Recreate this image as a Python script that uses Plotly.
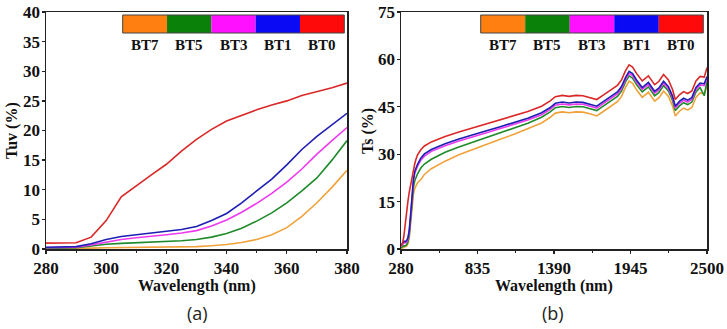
import plotly.graph_objects as go

W, H = 727, 329

# ---------------- data ----------------
series_names = ["BT0", "BT1", "BT3", "BT5", "BT7"]
legend_order = ["BT7", "BT5", "BT3", "BT1", "BT0"]
line_colors = {"BT0": "#DA2828", "BT1": "#1E1EB4", "BT3": "#EE3AEE", "BT5": "#1F8A2A", "BT7": "#F0A23A"}
swatch_colors = {"BT0": "#FF0A0A", "BT1": "#0A0AF5", "BT3": "#FF10FF", "BT5": "#0A820A", "BT7": "#FF8010"}

# Panel (a): UV transmittance
wl_uv = [280, 285, 290, 295, 300, 305, 310, 315, 320, 325, 330, 335, 340, 345, 350, 355, 360, 365, 370, 375, 380]
tuv_bt0 = [1.0, 1.0, 1.05, 2.0, 4.8, 8.8, 10.7, 12.5, 14.3, 16.5, 18.5, 20.2, 21.6, 22.6, 23.5, 24.3, 25.0, 25.9, 26.5, 27.2, 28.0]
tuv_bt1 = [0.3, 0.3, 0.4, 0.9, 1.6, 2.1, 2.4, 2.7, 2.9, 3.3, 3.8, 4.8, 6.0, 7.8, 9.8, 11.8, 14.2, 16.8, 19.0, 21.0, 22.9]
tuv_bt3 = [0.2, 0.2, 0.3, 0.7, 1.2, 1.6, 1.9, 2.1, 2.4, 2.7, 3.1, 3.9, 4.9, 6.2, 7.7, 9.4, 11.3, 13.5, 16.0, 18.3, 20.5]
tuv_bt5 = [0.1, 0.1, 0.2, 0.5, 0.8, 0.95, 1.05, 1.15, 1.25, 1.4, 1.6, 2.0, 2.6, 3.5, 4.7, 6.1, 7.8, 9.8, 12.0, 15.0, 18.3]
tuv_bt7 = [0.05, 0.05, 0.1, 0.15, 0.2, 0.22, 0.25, 0.28, 0.3, 0.35, 0.4, 0.55, 0.75, 1.1, 1.6, 2.4, 3.6, 5.5, 7.8, 10.4, 13.3]

# Panel (b): solar transmittance
wl_s = [280, 290, 300, 310, 320, 330, 340, 350, 360, 370, 380, 390, 400, 425, 450, 500, 600, 700, 800, 900,
        1000, 1100, 1200, 1300, 1360, 1400, 1450, 1500, 1550, 1600, 1650, 1700, 1750, 1800, 1850, 1880, 1910,
        1935, 1960, 1990, 2030, 2075, 2120, 2150, 2185, 2220, 2250, 2270, 2300, 2330, 2360, 2390, 2420, 2450,
        2480, 2500]
ts_bt0 = [1.0, 1.5, 3.8, 8.0, 12.0, 15.0, 18.0, 20.5, 22.8, 25.0, 27.0, 28.6, 29.8, 31.5, 32.6, 33.9, 35.6, 37.0, 38.3, 39.5,
          40.8, 42.1, 43.5, 45.2, 46.8, 48.2, 48.6, 48.3, 48.6, 48.5, 48.0, 47.3, 48.8, 50.3, 51.8, 53.5, 56.5,
          58.3, 57.6, 55.5, 53.2, 54.8, 52.0, 53.0, 55.2, 53.5, 50.5, 47.3, 48.8, 49.8, 49.2, 50.0, 53.2, 54.6,
          54.4, 57.4]
ts_bt1 = [1.0, 2.0, 2.5, 2.3, 2.6, 3.5, 6.0, 11.0, 17.5, 22.0, 24.6, 25.9, 26.8, 28.8, 30.1, 31.5, 33.3, 34.8, 36.2, 37.4,
          38.7, 40.0, 41.4, 43.1, 44.7, 46.1, 46.5, 46.2, 46.5, 46.4, 45.9, 45.2, 46.7, 48.2, 49.7, 51.4, 54.4,
          56.2, 55.5, 53.4, 51.1, 52.7, 49.9, 50.9, 53.1, 51.4, 48.4, 45.2, 46.7, 47.7, 47.1, 47.9, 51.1, 52.5,
          52.3, 54.6]
ts_bt3 = [0.8, 1.6, 2.0, 1.9, 2.2, 3.0, 5.5, 10.5, 17.0, 21.5, 24.0, 25.3, 26.2, 28.2, 29.4, 30.9, 32.7, 34.2, 35.6, 36.8,
          38.1, 39.4, 40.8, 42.5, 44.1, 45.5, 45.9, 45.6, 45.9, 45.8, 45.3, 44.6, 46.1, 47.6, 49.1, 50.8, 53.8,
          55.6, 54.9, 52.8, 50.5, 52.1, 49.3, 50.3, 52.5, 50.8, 47.8, 44.6, 46.1, 47.1, 46.5, 47.3, 50.5, 51.9,
          51.7, 54.0]
ts_bt5 = [0.4, 0.8, 1.0, 1.0, 1.3, 2.2, 4.5, 9.5, 15.5, 19.5, 21.6, 22.8, 23.8, 25.7, 26.9, 28.4, 30.6, 32.3, 33.8, 35.2,
          36.7, 38.2, 39.8, 41.7, 43.3, 44.7, 45.1, 44.8, 45.1, 45.0, 44.5, 43.8, 45.3, 46.8, 48.3, 50.0, 53.0,
          54.8, 54.1, 52.0, 49.7, 51.3, 48.5, 49.5, 51.7, 50.0, 47.0, 43.8, 45.3, 46.3, 45.7, 46.5, 49.7, 51.1,
          48.5, 53.0]
ts_bt7 = [0.1, 0.3, 0.5, 0.6, 0.9, 1.6, 3.5, 8.0, 13.5, 17.3, 19.2, 20.2, 21.0, 22.0, 23.6, 25.4, 27.8, 29.8, 31.5, 33.1,
          34.7, 36.3, 38.0, 39.9, 41.6, 43.0, 43.4, 43.1, 43.4, 43.3, 42.8, 42.1, 43.6, 45.1, 46.6, 48.3, 51.3,
          53.1, 52.4, 50.3, 48.0, 49.6, 46.8, 47.8, 50.0, 48.3, 45.3, 42.1, 43.6, 44.6, 44.0, 44.8, 48.0, 49.4,
          49.2, 51.5]

tuv = {"BT0": tuv_bt0, "BT1": tuv_bt1, "BT3": tuv_bt3, "BT5": tuv_bt5, "BT7": tuv_bt7}
ts = {"BT0": ts_bt0, "BT1": ts_bt1, "BT3": ts_bt3, "BT5": ts_bt5, "BT7": ts_bt7}

uv_xticks = [280, 300, 320, 340, 360, 380]
uv_yticks = [0, 5, 10, 15, 20, 25, 30, 35, 40]
s_xticks = [280, 835, 1390, 1945, 2500]
s_yticks = [0, 15, 30, 45, 60, 75]

x_title = "Wavelength (nm)"
y_titles = ["Tuv (%)", "Ts (%)"]
panel_labels = ["(a)", "(b)"]

# ---------------- figure ----------------
def px_x(p):
    return p / W

def px_y(p):
    return 1 - p / H

fig = go.Figure()
draw_order = ["BT7", "BT5", "BT3", "BT1", "BT0"]
for name in draw_order:
    fig.add_trace(go.Scatter(x=wl_uv, y=tuv[name], mode="lines", name=name,
                             line=dict(color=line_colors[name], width=1.6),
                             xaxis="x", yaxis="y", showlegend=False, hoverinfo="skip"))
for name in draw_order:
    fig.add_trace(go.Scatter(x=wl_s, y=ts[name], mode="lines", name=name,
                             line=dict(color=line_colors[name], width=1.6),
                             xaxis="x2", yaxis="y2", showlegend=False, hoverinfo="skip"))

serif_bold = dict(family="Liberation Serif", size=17, color="#111111", weight="bold")
title_font = dict(family="Liberation Serif", size=16, color="#111111", weight="bold")

axis_common = dict(showgrid=False, zeroline=False, showline=True, mirror=True, automargin=False,
                   linecolor="#222222", linewidth=1.5, ticks="outside", ticklen=3,
                   tickwidth=1.3, tickcolor="#222222", tickfont=serif_bold)

fig.update_layout(
    width=W, height=H,
    margin=dict(l=0, r=0, t=0, b=0, autoexpand=False),
    paper_bgcolor="white", plot_bgcolor="white",
    showlegend=False,
    xaxis=dict(axis_common, domain=[px_x(46), px_x(347)], range=[280, 380],
               tickvals=uv_xticks, anchor="y", ticklabelstandoff=0,
               minor=dict(ticks="outside", ticklen=2.5, tickwidth=1, tickcolor="#222222", dtick=10, tick0=280)),
    yaxis=dict(axis_common, domain=[px_y(249), px_y(12)], range=[0, 40],
               tickvals=uv_yticks, anchor="x", ticklabelstandoff=-2),
    xaxis2=dict(axis_common, domain=[px_x(401), px_x(707)], range=[280, 2500],
                tickvals=s_xticks, anchor="y2", ticklabelstandoff=0,
                minor=dict(ticks="outside", ticklen=2.5, tickwidth=1, tickcolor="#222222", dtick=277.5, tick0=280)),
    yaxis2=dict(axis_common, domain=[px_y(249), px_y(12)], range=[0, 75],
                tickvals=s_yticks, anchor="x2", ticklabelstandoff=-2),
)

# Color-bar style legends
shapes = []
annotations = []
legend_boxes = [(122.7, 344.3), (480.7, 703.3)]
for (x0, x1) in legend_boxes:
    seg = (x1 - x0) / len(legend_order)
    for i, name in enumerate(legend_order):
        a = x0 + i * seg
        b = a + seg
        shapes.append(dict(type="rect", xref="paper", yref="paper",
                           x0=px_x(a), x1=px_x(b), y0=px_y(33), y1=px_y(15),
                           fillcolor=swatch_colors[name], line=dict(width=0), layer="above"))
        annotations.append(dict(text=name, xref="paper", yref="paper",
                                x=px_x((a + b) / 2), y=px_y(45), showarrow=False,
                                xanchor="center", yanchor="middle",
                                font=dict(family="Liberation Serif", size=15, color="#111111", weight="bold")))
    shapes.append(dict(type="rect", xref="paper", yref="paper",
                       x0=px_x(x0), x1=px_x(x1), y0=px_y(33), y1=px_y(15),
                       fillcolor="rgba(0,0,0,0)", line=dict(color="#444444", width=1), layer="above"))

# axis titles
for cx in [197, 554]:
    annotations.append(dict(text=x_title, xref="paper", yref="paper", x=px_x(cx), y=px_y(286),
                            showarrow=False, xanchor="center", yanchor="middle", font=title_font))
for ytxt, cx in zip(y_titles, [12, 368]):
    annotations.append(dict(text=ytxt, xref="paper", yref="paper", x=px_x(cx), y=px_y(131),
                            showarrow=False, xanchor="center", yanchor="middle", textangle=-90,
                            font=title_font))

for lbl, cx in zip(panel_labels, [197, 553]):
    annotations.append(dict(text=lbl, xref="paper", yref="paper", x=px_x(cx), y=px_y(313),
                            showarrow=False, xanchor="center", yanchor="middle",
                            font=dict(family="Open Sans", size=18, color="#222222")))

fig.update_layout(shapes=shapes, annotations=annotations)

fig.write_html("out.html", config={"displayModeBar": False, "staticPlot": True},
               post_script="document.body.style.margin='0px';document.body.style.overflow='hidden';")
